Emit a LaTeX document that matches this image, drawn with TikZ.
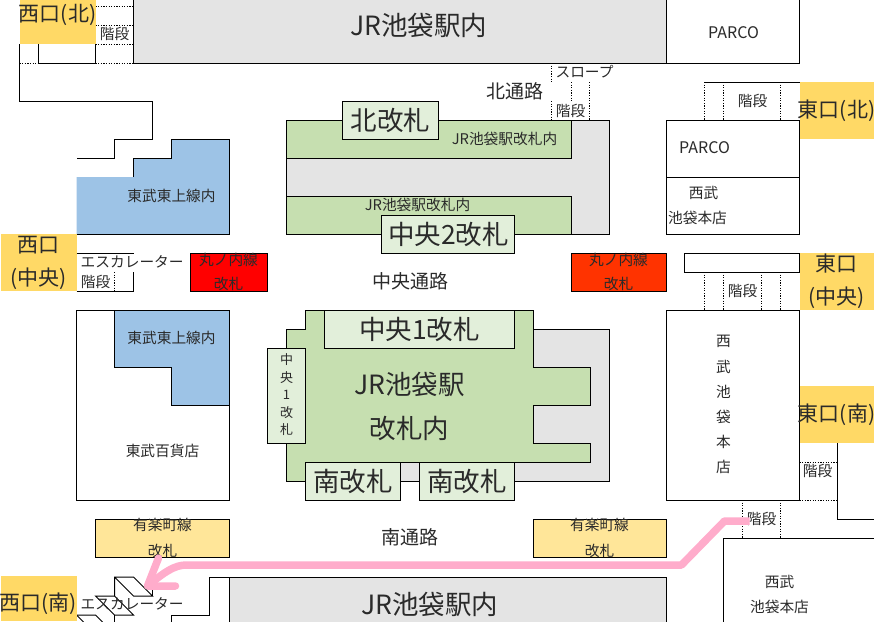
\documentclass[tikz,border=0pt]{standalone}
\usepackage{fontspec}
\setmainfont{Noto Sans CJK JP}
\definecolor{gy}{HTML}{E4E4E4}
\definecolor{gr}{HTML}{C6DFB0}
\definecolor{lg}{HTML}{E2EFDA}
\definecolor{bl}{HTML}{9DC3E6}
\definecolor{ye}{HTML}{FFD966}
\definecolor{ly}{HTML}{FFE699}
\definecolor{pk}{HTML}{FFACCB}
\definecolor{tx}{HTML}{2A2A2A}
\tikzset{
  lbl/.style={inner sep=0pt,text=tx,font=\fontsize{#1}{#1}\selectfont},
  lbl/.default=14.7,
  ln/.style={draw=black,line width=1pt},
  dot/.style={draw=black,line width=0.9pt,dash pattern=on 1.2pt off 1.4pt},
  wbox/.style={ln,fill=white},
  gbox/.style={ln,fill=gy},
  kai/.style={ln,fill=lg},
  blue/.style={ln,fill=bl},
  exitbox/.style={fill=ye},
  yuraku/.style={ln,fill=ly}
}
\begin{document}
\begin{tikzpicture}[x=1pt,y=-1pt]
\useasboundingbox (0,0) rectangle (874,621);
\clip (0,0) rectangle (874,621);
\fill[white] (0,0) rectangle (874,621);
\begin{scope}[xshift=-0.5pt]
% top buildings
\path[gbox] (134,-3) rectangle (667,63);
\node[lbl=26.5] (jrtop) at (419,25) {JR池袋駅内};
\path[wbox] (667,-3) rectangle (800,63);
\node[lbl=16] (parcotop) at (734,33) {PARCO};
% top-left
\draw[ln] (20,44) -- (20,101) -- (153,101) -- (153,139) -- (115,139) -- (115,158) -- (77,158);
\draw[ln] (39,44) -- (39,63) -- (96,63);
\draw[ln] (96,0) -- (96,63);
\draw[dot] (20,63) -- (39,63);
\foreach \yy in {6,25,44,63} \draw[dot] (96,\yy) -- (134,\yy);
\path[exitbox] (20,-1) rectangle (96,44);
\node[lbl=21] (wn) at (58,15) {西口(北)};
\node[lbl] (kt1) at (115,34) {階段};
% blue upper
\path[fill=bl] (230,139) -- (172,139) -- (172,158) -- (134,158) -- (134,177) -- (77,177) -- (77,234) -- (230,234) -- cycle;
\draw[ln] (134,177) -- (134,158) -- (172,158) -- (172,139) -- (230,139) -- (230,234) -- (77,234);
\node[lbl] (tobu1) at (172,196) {東武東上線内};
% west centre
\path[exitbox] (1,234) rectangle (77,291);
\node[lbl=21] (wc1) at (39,245) {西口};
\node[lbl=21] (wc2) at (39,279) {(中央)};
\draw[ln] (77,253) -- (134,253);
\draw[ln] (77,291) -- (134,291) -- (134,272);
\draw[dot] (115,272) -- (115,291);
\node[lbl,anchor=west] (esc1) at (81,262) {エスカレーター};
\node[lbl] (kt2) at (96,282) {階段};
% marunouchi
\path[ln,fill=red] (191,253) rectangle (268,291);
\node[lbl] (m1) at (229,260) {丸ノ内線};
\node[lbl] (m1b) at (229,284) {改札};
\path[ln,fill={rgb,255:red,255;green,51;blue,0}] (572,253) rectangle (667,291);
\node[lbl] (m2) at (619,260) {丸ノ内線};
\node[lbl] (m2b) at (619,284) {改札};
\node[lbl=19] (chuo) at (411,281) {中央通路};
% tobu store
\path[wbox] (77,310) rectangle (230,500);
\path[blue] (115,310) -- (230,310) -- (230,405) -- (172,405) -- (172,367) -- (115,367) -- cycle;
\node[lbl] (tobu2) at (172,338) {東武東上線内};
\node[lbl] (tobud) at (163,451) {東武百貨店};
% yurakucho
\path[yuraku] (96,519) rectangle (230,557);
\node[lbl] (y1) at (163,525) {有楽町線};
\node[lbl] (y1b) at (163,551) {改札};
\path[yuraku] (534,519) rectangle (667,557);
\node[lbl] (y2) at (600,525) {有楽町線};
\node[lbl] (y2b) at (600,551) {改札};
\node[lbl=19] (minami) at (410,537) {南通路};
% JR north area
\path[gbox] (287,120) rectangle (610,234);
\path[ln,fill=gr] (287,120) rectangle (572,158);
\path[ln,fill=gr] (287,196) rectangle (572,234);
\node[lbl] (jr1) at (505,139) {JR池袋駅改札内};
\node[lbl] (jr2) at (418,205) {JR池袋駅改札内};
\path[kai] (343,101) rectangle (439,139);
\node[lbl=26.5] (kita) at (391,120) {北改札};
\path[kai] (382,215) rectangle (515,253);
\node[lbl=26.5] (c2) at (449,234) {中央2改札};
% JR main
\path[gbox] (401,329) rectangle (610,481);
\path[ln,fill=gr] (306,310) -- (534,310) -- (534,367) -- (591,367) -- (591,405) -- (534,405) -- (534,443) -- (591,443) -- (591,462) -- (401,462) -- (401,481) -- (287,481) -- (287,329) -- (306,329) -- cycle;
\path[kai] (325,310) rectangle (515,348);
\node[lbl=26.5] (c1) at (420,329) {中央1改札};
\path[kai] (268,348) rectangle (306,443);
\node[lbl=13] (v1) at (287,360) {中};
\node[lbl=13] (v2) at (287,378) {央};
\node[lbl=13] (v3) at (287,395) {1};
\node[lbl=13] (v4) at (287,413) {改};
\node[lbl=13] (v5) at (287,430) {札};
\path[kai] (306,462) rectangle (401,500);
\node[lbl=26.5] (s1) at (353.5,481) {南改札};
\path[kai] (420,462) rectangle (515,500);
\node[lbl=26.5] (s2) at (467.5,481) {南改札};
\node[lbl=26.5] (jrm1) at (410,384) {JR池袋駅};
\node[lbl=26.5] (jrm2) at (410,428) {改札内};
% north passage
\node[lbl=19] (kt) at (515,91) {北通路};
\node[lbl] (slope) at (585,72) {スロープ};
\draw[dot] (552,63) -- (552,82);
\draw[dot] (572,82) -- (572,101);
\draw[dot] (552,101) -- (552,120);
\draw[dot] (590,82) -- (590,120);
\node[lbl] (kt3) at (571,111) {階段};
% east
\draw[ln] (705,82) -- (800,82);
\foreach \xx in {705,724,781} \draw[dot] (\xx,82) -- (\xx,120);
\node[lbl] (kt4) at (753,101) {階段};
\path[exitbox] (800,82) rectangle (875,139);
\node[lbl=21] (en) at (837,111) {東口(北)};
\path[wbox] (667,120) rectangle (800,177);
\node[lbl=16] (parco2) at (705,148) {PARCO};
\path[wbox] (667,177) rectangle (800,234);
\node[lbl] (sb1) at (704,193) {西武};
\node[lbl] (sb2) at (698,218) {池袋本店};
\path[wbox] (685,253) rectangle (800,272);
\path[exitbox] (800,253) rectangle (875,310);
\node[lbl=21] (ec1) at (837,264) {東口};
\node[lbl=21] (ec2) at (837,298) {(中央)};
\foreach \xx in {705,724,762,781} \draw[dot] (\xx,272) -- (\xx,310);
\node[lbl] (kt5) at (743,291) {階段};
\path[wbox] (667,310) rectangle (800,500);
\node[lbl] (t1) at (724,341) {西};
\node[lbl] (t2) at (724,367) {武};
\node[lbl] (t3) at (724,392) {池};
\node[lbl] (t4) at (724,417) {袋};
\node[lbl] (t5) at (724,442) {本};
\node[lbl] (t6) at (724,467) {店};
\draw[ln] (838,443) -- (838,519) -- (876,519);
\path[exitbox] (800,386) rectangle (875,443);
\node[lbl=21] (es) at (837,415) {東口(南)};
\foreach \yy in {462,500} \draw[dot] (800,\yy) -- (838,\yy);
\node[lbl] (kt6) at (818,471) {階段};
\foreach \xx in {743,781} \draw[dot] (\xx,500) -- (\xx,538);
\path[wbox] (724,538) rectangle (880,630);
\node[lbl] (sb3) at (780,582) {西武};
\node[lbl] (sb4) at (780,607) {池袋本店};
% bottom
\path[gbox] (230,577) rectangle (667,630);
\node[lbl=26.5] (jrbot) at (430,604) {JR池袋駅内};
\draw[ln] (230,577) -- (210,577) -- (210,615) -- (172,615) -- (172,625);
% escalators
\draw[ln] (115,596) -- (115,577) -- (134,577) -- (153,596) -- (134,596) -- (115,577);
\draw[ln] (153,596) -- (153,587);
\draw[ln] (115,596) -- (96,596) -- (115,615) -- (134,615) -- (115,596);
\draw[ln] (115,615) -- (115,625);
\draw[ln] (77,615) -- (96,615) -- (103,622);
\draw[ln] (77,615) -- (84,622);
\path[exitbox] (1,576) rectangle (77,621);
\node[lbl=21] (ws) at (39,604) {西口(南)};
\node[lbl,anchor=west] (esc2) at (81,604) {エスカレーター};
\node[lbl] (kt7) at (762,519) {階段};
% route
\coordinate (r0) at (750,521);
\coordinate (r1) at (725,521);
\coordinate (r2) at (682,565);
\coordinate (r3) at (187,565);
\coordinate (tip) at (148,586);
\coordinate (b1) at (159,558);
\coordinate (b2) at (176,586);
\draw[pk,line width=7.5pt,line join=round] (r0) -- (r1) -- (r2) -- (r3) .. controls (175,565) and (165,572) .. (tip);
\draw[pk,line width=7.5pt,line join=round,line cap=round] (b1) -- (tip) -- (b2);
\end{scope}
\end{tikzpicture}
\end{document}
